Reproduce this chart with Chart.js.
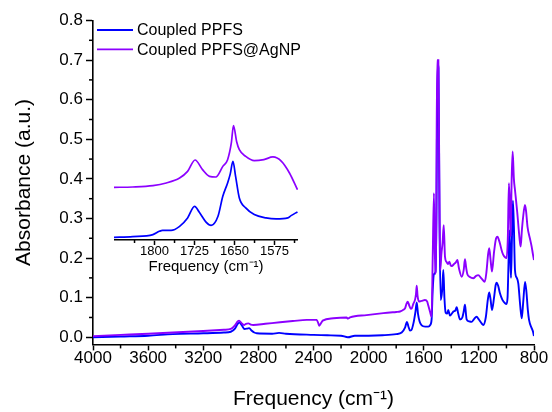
<!DOCTYPE html>
<html>
<head>
<meta charset="utf-8">
<script src="https://cdn.jsdelivr.net/npm/chart.js@4/dist/chart.umd.min.js"></script>
<style>
  html, body { margin: 0; padding: 0; background: #fff; }
  #wrap { position: relative; width: 552px; height: 412px; }
  #main { position: absolute; left: 0; top: 0; }
  #inset { position: absolute; left: 114px; top: 97px; }
</style>
</head>
<body>
<div id="wrap">
  <canvas id="main" width="552" height="412"></canvas>
  <canvas id="inset" width="184" height="183"></canvas>
</div>
<script>
// ---------------- DATA ----------------
const seriesLabels = ["Coupled PPFS", "Coupled PPFS@AgNP"];

// Main spectrum: Coupled PPFS (frequency cm-1, absorbance)
const ppfsFreq = [4000,3800,3600,3420,3200,3050,3000,2970,2950,2938,2920,2900,2880,2866,2850,2830,2812,2700,2650,2600,2400,2300,2200,2150,2100,2000,1900,1800,1760,1735,1722,1712,1700,1690,1675,1660,1651,1642,1630,1615,1590,1567,1553,1543,1535,1525,1515,1508,1500,1493,1486,1477,1466,1458,1450,1441,1430,1422,1410,1400,1385,1370,1361,1350,1337,1320,1310,1301,1294,1289,1270,1253,1235,1217,1200,1180,1168,1150,1135,1125,1115,1105,1090,1078,1071,1060,1047,1030,1010,1000,992,984,978,972,967,960,953,946,938,925,914,900,889,878,865,855,845,836,817,808,800];
const ppfsAbs  = [0.000,0.002,0.004,0.008,0.010,0.012,0.014,0.022,0.034,0.037,0.030,0.021,0.022,0.023,0.017,0.012,0.010,0.009,0.011,0.009,0.006,0.005,0.004,0.000,0.004,0.004,0.005,0.008,0.012,0.025,0.039,0.028,0.017,0.018,0.035,0.065,0.088,0.060,0.040,0.030,0.027,0.027,0.031,0.045,0.120,0.160,0.165,0.300,0.690,0.680,0.300,0.094,0.120,0.170,0.100,0.062,0.060,0.069,0.055,0.058,0.065,0.068,0.076,0.060,0.045,0.050,0.065,0.082,0.060,0.045,0.040,0.039,0.046,0.052,0.045,0.035,0.031,0.050,0.095,0.113,0.095,0.069,0.100,0.132,0.138,0.130,0.111,0.095,0.086,0.084,0.100,0.200,0.270,0.200,0.150,0.250,0.345,0.280,0.170,0.150,0.136,0.080,0.048,0.090,0.140,0.115,0.070,0.044,0.023,0.015,0.003];

// Main spectrum: Coupled PPFS@AgNP
const agnpFreq = [4000,3800,3600,3420,3200,3050,3000,2970,2950,2940,2925,2904,2890,2873,2855,2837,2750,2643,2550,2449,2400,2377,2365,2358,2345,2333,2256,2160,2150,2135,2015,1893,1800,1772,1745,1736,1725,1716,1705,1694,1687,1675,1663,1656,1651,1645,1635,1615,1591,1575,1567,1555,1543,1535,1526,1517,1510,1503,1494,1487,1480,1472,1463,1455,1446,1434,1424,1414,1405,1397,1380,1366,1356,1345,1324,1310,1301,1292,1284,1265,1241,1220,1205,1180,1157,1145,1133,1125,1115,1105,1090,1075,1064,1055,1047,1035,1023,1010,999,990,982,975,970,962,955,946,938,922,905,897,888,880,866,858,847,830,817,808,800];
const agnpAbs  = [0.003,0.006,0.009,0.012,0.016,0.019,0.021,0.030,0.040,0.042,0.037,0.031,0.034,0.035,0.032,0.031,0.034,0.038,0.041,0.044,0.044,0.044,0.035,0.029,0.036,0.042,0.048,0.050,0.047,0.050,0.056,0.061,0.064,0.065,0.070,0.073,0.085,0.090,0.080,0.072,0.073,0.085,0.095,0.110,0.130,0.105,0.090,0.092,0.094,0.090,0.080,0.065,0.052,0.200,0.364,0.160,0.250,0.700,0.700,0.400,0.170,0.210,0.240,0.283,0.204,0.190,0.185,0.191,0.182,0.180,0.185,0.190,0.195,0.175,0.153,0.170,0.197,0.175,0.160,0.152,0.149,0.155,0.157,0.148,0.140,0.165,0.210,0.225,0.195,0.166,0.215,0.250,0.254,0.246,0.237,0.220,0.208,0.202,0.200,0.250,0.389,0.330,0.254,0.400,0.469,0.400,0.372,0.317,0.250,0.229,0.270,0.300,0.334,0.320,0.279,0.250,0.229,0.210,0.195];

// Inset (1876-1531 cm-1), zoomed view
const insetPpfsFreq = [1877,1841,1803,1791,1785,1769,1753,1738,1725,1716,1703,1694,1681,1672,1663,1658,1653,1648,1641,1629,1613,1591,1572,1550,1544,1532];
const insetPpfsAbs  = [0.0030,0.0038,0.0060,0.0097,0.0108,0.0108,0.0153,0.0247,0.0377,0.0310,0.0198,0.0164,0.0265,0.0489,0.0638,0.0740,0.0880,0.0712,0.0470,0.0359,0.0284,0.0247,0.0236,0.0247,0.0273,0.0314];
const insetAgnpFreq = [1877,1841,1803,1778,1753,1738,1724,1710,1697,1685,1672,1663,1656,1652,1646,1641,1629,1613,1595,1578,1562,1547,1532];
const insetAgnpAbs  = [0.0589,0.0593,0.0608,0.0638,0.0694,0.0768,0.0895,0.0787,0.0712,0.0705,0.0824,0.0899,0.1086,0.1280,0.1100,0.1010,0.0935,0.0887,0.0899,0.0929,0.0880,0.0750,0.0563];

// Tick values
const xTicks = [4000,3600,3200,2800,2400,2000,1600,1200,800];
const xMinorTicks = [3800,3400,3000,2600,2200,1800,1400,1000];
const yTicks = [0,0.1,0.2,0.3,0.4,0.5,0.6,0.7,0.8];
const yMinorTicks = [0.05,0.15,0.25,0.35,0.45,0.55,0.65,0.75];
const insetTicks = [1800,1725,1650,1575];
const insetMinorTicks = [1837.5,1762.5,1687.5,1612.5,1537.5];

// ---------------- STYLE ----------------
const BLUE = '#0000ff';
const VIOLET = '#8c00ff';
const FONT = '"Liberation Sans", Arial, sans-serif';

function pts(f, v) { return f.map((x, i) => ({ x: x, y: v[i] })); }

const minorTickPlugin = {
  id: 'minorTicks',
  afterDraw(chart) {
    const o = chart.options.plugins.minorTicks;
    if (!o) return;
    const ctx = chart.ctx, a = chart.chartArea;
    ctx.save();
    ctx.strokeStyle = '#000';
    ctx.lineWidth = 1.5;
    if (o.x) {
      const xs = chart.scales.x;
      o.x.forEach(v => {
        const p = xs.getPixelForValue(v);
        ctx.beginPath(); ctx.moveTo(p, a.bottom); ctx.lineTo(p, a.bottom + o.len); ctx.stroke();
      });
    }
    if (o.y) {
      const ys = chart.scales.y;
      o.y.forEach(v => {
        const p = ys.getPixelForValue(v);
        ctx.beginPath(); ctx.moveTo(a.left, p); ctx.lineTo(a.left - o.len, p); ctx.stroke();
      });
    }
    ctx.restore();
  }
};

const insideLegendPlugin = {
  id: 'insideLegend',
  afterDraw(chart) {
    const o = chart.options.plugins.insideLegend;
    if (!o) return;
    const ctx = chart.ctx, a = chart.chartArea;
    ctx.save();
    chart.data.datasets.forEach((ds, i) => {
      const y = a.top + 9.5 + i * 19.3;
      ctx.strokeStyle = ds.borderColor;
      ctx.lineWidth = 1.8;
      ctx.beginPath(); ctx.moveTo(a.left + 4, y); ctx.lineTo(a.left + 40, y); ctx.stroke();
      ctx.fillStyle = '#000';
      ctx.font = '16px ' + FONT;
      ctx.textBaseline = 'middle';
      ctx.textAlign = 'left';
      ctx.fillText(ds.label, a.left + 44, y + 1);
    });
    ctx.restore();
  }
};

// ---------------- MAIN CHART ----------------
new Chart(document.getElementById('main'), {
  type: 'line',
  data: {
    datasets: [
      { label: seriesLabels[0], data: pts(ppfsFreq, ppfsAbs), borderColor: BLUE, borderWidth: 1.9, pointRadius: 0, fill: false, cubicInterpolationMode: 'monotone', order: 1 },
      { label: seriesLabels[1], data: pts(agnpFreq, agnpAbs), borderColor: VIOLET, borderWidth: 1.9, pointRadius: 0, fill: false, cubicInterpolationMode: 'monotone', order: 0 }
    ]
  },
  options: {
    responsive: false,
    animation: false,
    devicePixelRatio: 1,
    layout: { padding: { top: 20.5, right: 18, bottom: 0, left: 0 } },
    plugins: {
      legend: { display: false },
      tooltip: { enabled: false },
      minorTicks: { x: xMinorTicks, y: yMinorTicks, len: 4 },
      insideLegend: {}
    },
    scales: {
      x: {
        type: 'linear', reverse: true, min: 800, max: 4000,
        afterBuildTicks: s => { s.ticks = xTicks.map(v => ({ value: v })); },
        afterFit: s => { s.height = 67.6; },
        grid: { drawOnChartArea: false, drawTicks: true, tickLength: 6, tickColor: '#000', tickWidth: 1.5 },
        border: { display: true, color: '#000', width: 1.6 },
        ticks: { color: '#000', font: { family: FONT, size: 17, lineHeight: 1 }, padding: -1, maxRotation: 0, autoSkip: false, callback: v => String(v) },
        title: { display: true, text: 'Frequency (cm⁻¹)', color: '#000', font: { family: FONT, size: 21, lineHeight: 1.2 }, padding: { top: 0, bottom: 0 } }
      },
      y: {
        type: 'linear', min: -0.018, max: 0.8,
        afterBuildTicks: s => { s.ticks = yTicks.map(v => ({ value: v })); },
        afterFit: s => { s.width = 93; },
        grid: { drawOnChartArea: false, drawTicks: true, tickLength: 7, tickColor: '#000', tickWidth: 1.5 },
        border: { display: true, color: '#000', width: 1.6 },
        ticks: { color: '#000', font: { family: FONT, size: 17 }, padding: 3, autoSkip: false, callback: v => Number(v).toFixed(1) },
        title: { display: true, text: 'Absorbance (a.u.)', color: '#000', font: { family: FONT, size: 21, lineHeight: 1.2 }, padding: { top: 12, bottom: 0 } }
      }
    }
  },
  plugins: [minorTickPlugin, insideLegendPlugin]
});

// ---------------- INSET CHART ----------------
new Chart(document.getElementById('inset'), {
  type: 'line',
  data: {
    datasets: [
      { label: seriesLabels[0], data: pts(insetPpfsFreq, insetPpfsAbs), borderColor: BLUE, borderWidth: 1.7, pointRadius: 0, fill: false, cubicInterpolationMode: 'monotone', order: 1 },
      { label: seriesLabels[1], data: pts(insetAgnpFreq, insetAgnpAbs), borderColor: VIOLET, borderWidth: 1.7, pointRadius: 0, fill: false, cubicInterpolationMode: 'monotone', order: 0 }
    ]
  },
  options: {
    responsive: false,
    animation: false,
    devicePixelRatio: 1,
    layout: { padding: 0 },
    plugins: {
      legend: { display: false },
      tooltip: { enabled: false },
      minorTicks: { x: insetMinorTicks, len: 3 }
    },
    scales: {
      x: {
        type: 'linear', reverse: true, min: 1531, max: 1876,
        afterBuildTicks: s => { s.ticks = insetTicks.map(v => ({ value: v })); },
        afterFit: s => { s.height = 40; },
        grid: { drawOnChartArea: false, drawTicks: true, tickLength: 5, tickColor: '#000', tickWidth: 1.5 },
        border: { display: true, color: '#000', width: 1.6 },
        ticks: { color: '#000', font: { family: FONT, size: 13, lineHeight: 1 }, padding: 0, maxRotation: 0, autoSkip: false, callback: v => String(v) },
        title: { display: true, text: 'Frequency (cm⁻¹)', color: '#000', font: { family: FONT, size: 15, lineHeight: 1.2 }, padding: { top: 0, bottom: 4 } }
      },
      y: {
        type: 'linear', min: 0, max: 0.16, display: false
      }
    }
  },
  plugins: [minorTickPlugin]
});
</script>
</body>
</html>
